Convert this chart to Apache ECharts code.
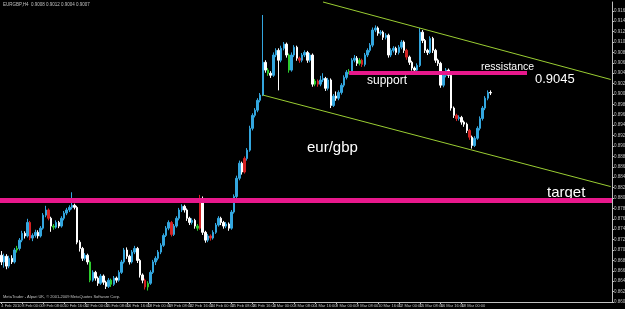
<!DOCTYPE html>
<html><head><meta charset="utf-8">
<script src="https://cdn.jsdelivr.net/npm/echarts@6/dist/echarts.min.js"></script>
<style>html,body{margin:0;padding:0;background:#000}#c{width:625px;height:309px}</style>
</head><body><div id="c"></div>
<script>
const tickLabels = ["4 Feb 2010","8 Feb 00:00","9 Feb 08:00","10 Feb 16:00","12 Feb 00:00","15 Feb 08:00","16 Feb 16:00","18 Feb 00:00","19 Feb 08:00","22 Feb 16:00","24 Feb 00:00","25 Feb 08:00","26 Feb 16:00","2 Mar 00:00","3 Mar 08:00","4 Mar 16:00","8 Mar 00:00","9 Mar 08:00","10 Mar 16:00","12 Mar 00:00","15 Mar 08:00","16 Mar 16:00","18 Mar 00:00","19 Mar 08:00"];
const opens = [
0.8695,0.8682,0.8693,0.8674,0.8689,0.8682,0.8705,0.8708,0.8724,0.8737,
0.8732,0.8758,0.8728,0.8733,0.8739,0.8732,0.8747,0.8772,0.8782,0.8766,
0.8751,0.8749,0.8758,0.8751,0.8766,0.8776,0.8782,0.8787,0.8791,0.8787,
0.8720,0.8708,0.8689,0.8695,0.8682,0.8647,0.8662,0.8651,0.8641,0.8655,
0.8643,0.8635,0.8647,0.8639,0.8651,0.8647,0.8662,0.8682,0.8705,0.8693,
0.8682,0.8701,0.8708,0.8685,0.8657,0.8647,0.8634,0.8641,0.8662,0.8682,
0.8689,0.8701,0.8714,0.8733,0.8747,0.8758,0.8735,0.8751,0.8766,0.8782,
0.8789,0.8782,0.8766,0.8758,0.8762,0.8751,0.8747,0.8799,0.8739,0.8724,
0.8732,0.8728,0.8739,0.8753,0.8766,0.8758,0.8751,0.8755,0.8747,0.8778,
0.8808,0.8843,0.8872,0.8855,0.8881,0.8897,0.8939,0.8964,0.8974,0.8993,
0.9003,0.9066,0.9051,0.9045,0.9041,0.9080,0.9089,0.9070,0.9093,0.9101,
0.9080,0.9051,0.9080,0.9095,0.9074,0.9070,0.9080,0.9085,0.9070,0.9080,
0.9024,0.9030,0.9024,0.9032,0.9035,0.9016,0.9032,0.8983,0.9001,0.8997,
0.9008,0.9022,0.9037,0.9047,0.9049,0.9070,0.9074,0.9064,0.9070,0.9062,
0.9080,0.9089,0.9099,0.9128,0.9132,0.9122,0.9124,0.9114,0.9118,0.9080,
0.9089,0.9093,0.9085,0.9095,0.9105,0.9089,0.9076,0.9066,0.9055,0.9051,
0.9060,0.9124,0.9108,0.9089,0.9085,0.9112,0.9089,0.9070,0.9064,0.9022,
0.9041,0.9051,0.9041,0.8978,0.8964,0.8958,0.8960,0.8951,0.8947,0.8935,
0.8922,0.8906,0.8920,0.8939,0.8958,0.8978,0.8997,0.9008];
const closes = [
0.8682,0.8693,0.8674,0.8689,0.8682,0.8705,0.8708,0.8724,0.8737,0.8732,
0.8758,0.8728,0.8733,0.8739,0.8732,0.8747,0.8772,0.8782,0.8766,0.8751,
0.8749,0.8758,0.8751,0.8766,0.8776,0.8782,0.8787,0.8791,0.8787,0.8720,
0.8708,0.8689,0.8695,0.8682,0.8647,0.8662,0.8651,0.8641,0.8655,0.8643,
0.8635,0.8647,0.8639,0.8651,0.8647,0.8662,0.8682,0.8705,0.8693,0.8682,
0.8701,0.8708,0.8685,0.8657,0.8647,0.8634,0.8641,0.8662,0.8682,0.8689,
0.8701,0.8714,0.8733,0.8747,0.8758,0.8735,0.8751,0.8766,0.8782,0.8789,
0.8782,0.8766,0.8758,0.8762,0.8751,0.8747,0.8799,0.8739,0.8724,0.8732,
0.8728,0.8739,0.8753,0.8766,0.8758,0.8751,0.8755,0.8747,0.8778,0.8808,
0.8843,0.8872,0.8855,0.8881,0.8897,0.8939,0.8964,0.8974,0.8993,0.9003,
0.9066,0.9051,0.9045,0.9041,0.9080,0.9089,0.9070,0.9093,0.9101,0.9080,
0.9051,0.9080,0.9095,0.9074,0.9070,0.9080,0.9085,0.9070,0.9080,0.9024,
0.9030,0.9024,0.9032,0.9035,0.9016,0.9032,0.8983,0.9001,0.8997,0.9008,
0.9022,0.9037,0.9047,0.9049,0.9070,0.9074,0.9064,0.9070,0.9062,0.9080,
0.9089,0.9099,0.9128,0.9132,0.9122,0.9124,0.9114,0.9118,0.9080,0.9089,
0.9093,0.9085,0.9095,0.9105,0.9089,0.9076,0.9066,0.9055,0.9051,0.9060,
0.9124,0.9108,0.9089,0.9085,0.9112,0.9089,0.9070,0.9064,0.9022,0.9041,
0.9051,0.9041,0.8978,0.8964,0.8958,0.8960,0.8951,0.8947,0.8935,0.8922,
0.8906,0.8920,0.8939,0.8958,0.8978,0.8997,0.9008,0.9007];
const lows = [
0.8676,0.8671,0.8668,0.8670,0.8678,0.8679,0.8700,0.8704,0.8720,0.8727,
0.8729,0.8724,0.8722,0.8729,0.8727,0.8729,0.8744,0.8768,0.8762,0.8740,
0.8744,0.8746,0.8747,0.8748,0.8762,0.8772,0.8778,0.8783,0.8783,0.8716,
0.8702,0.8684,0.8685,0.8677,0.8643,0.8644,0.8646,0.8636,0.8638,0.8638,
0.8630,0.8632,0.8634,0.8636,0.8642,0.8644,0.8659,0.8679,0.8688,0.8677,
0.8679,0.8697,0.8680,0.8652,0.8641,0.8629,0.8627,0.8638,0.8659,0.8676,
0.8685,0.8697,0.8711,0.8730,0.8743,0.8731,0.8732,0.8748,0.8762,0.8778,
0.8777,0.8761,0.8753,0.8754,0.8746,0.8742,0.8744,0.8734,0.8719,0.8720,
0.8723,0.8725,0.8736,0.8750,0.8753,0.8746,0.8747,0.8742,0.8744,0.8775,
0.8805,0.8839,0.8850,0.8852,0.8877,0.8894,0.8935,0.8960,0.8970,0.8989,
0.9001,0.9046,0.9040,0.9036,0.9038,0.9076,0.9012,0.9066,0.9089,0.9075,
0.9046,0.9048,0.9076,0.9069,0.9065,0.9066,0.9076,0.9065,0.9066,0.9019,
0.9020,0.9019,0.9020,0.9028,0.9011,0.9012,0.8978,0.8980,0.8992,0.8993,
0.9004,0.9018,0.9033,0.9043,0.9045,0.9066,0.9059,0.9060,0.9057,0.9058,
0.9076,0.9085,0.9095,0.9124,0.9117,0.9118,0.9109,0.9110,0.9075,0.9076,
0.9085,0.9080,0.9081,0.9091,0.9084,0.9071,0.9061,0.9050,0.9046,0.9047,
0.9057,0.9103,0.9084,0.9080,0.9082,0.9084,0.9065,0.9059,0.9017,0.9018,
0.9037,0.9036,0.8973,0.8959,0.8953,0.8954,0.8946,0.8942,0.8930,0.8917,
0.8900,0.8903,0.8917,0.8935,0.8954,0.8974,0.8993,0.9003];
const highs = [
0.8703,0.8698,0.8697,0.8694,0.8695,0.8709,0.8713,0.8728,0.8742,0.8741,
0.8765,0.8761,0.8737,0.8744,0.8743,0.8751,0.8776,0.8790,0.8785,0.8769,
0.8755,0.8762,0.8761,0.8770,0.8780,0.8786,0.8791,0.8816,0.8794,0.8790,
0.8724,0.8711,0.8699,0.8698,0.8685,0.8666,0.8665,0.8654,0.8659,0.8658,
0.8646,0.8651,0.8650,0.8655,0.8654,0.8666,0.8686,0.8709,0.8710,0.8696,
0.8705,0.8713,0.8711,0.8688,0.8660,0.8650,0.8645,0.8666,0.8686,0.8693,
0.8705,0.8718,0.8737,0.8751,0.8762,0.8761,0.8755,0.8770,0.8786,0.8793,
0.8792,0.8785,0.8769,0.8766,0.8765,0.8755,0.8811,0.8808,0.8742,0.8736,
0.8735,0.8743,0.8757,0.8770,0.8769,0.8761,0.8759,0.8758,0.8782,0.8812,
0.8848,0.8877,0.8875,0.8885,0.8901,0.8944,0.8968,0.8978,0.8997,0.9007,
0.9157,0.9070,0.9055,0.9049,0.9085,0.9093,0.9093,0.9098,0.9105,0.9104,
0.9083,0.9085,0.9099,0.9098,0.9077,0.9084,0.9089,0.9088,0.9084,0.9083,
0.9034,0.9033,0.9040,0.9045,0.9038,0.9036,0.9035,0.9005,0.9010,0.9012,
0.9026,0.9041,0.9051,0.9053,0.9074,0.9080,0.9078,0.9074,0.9073,0.9084,
0.9093,0.9103,0.9133,0.9137,0.9135,0.9128,0.9127,0.9122,0.9121,0.9093,
0.9097,0.9096,0.9099,0.9109,0.9108,0.9092,0.9079,0.9069,0.9058,0.9064,
0.9132,0.9128,0.9111,0.9092,0.9116,0.9115,0.9092,0.9073,0.9067,0.9045,
0.9055,0.9054,0.9044,0.8981,0.8967,0.8964,0.8963,0.8954,0.8950,0.8938,
0.8925,0.8924,0.8943,0.8962,0.8982,0.9001,0.9012,0.9012];
const greenBars = [6,20,34,42,56,75,102,110,120,133,137];
const redBars = [11,18,55,65,76,80,93,114,121,138,155,174,179];
const resistancePrice = 0.9045;
const resistanceSpan = [133, 201];
const targetPrice = 0.8793;
const upperTrend = [[123, 0.9182], [233, 0.9033]];
const lowerTrend = [[100, 0.9003], [233, 0.8827]];
const slotCount = 234;

const UP = '#33a6de', DOWN = '#ffffff', GREEN = '#2ecc2e', RED = '#d42222';
const PINK = '#e8188c', TREND = '#9acd32', AXIS = '#c0c0c0';
const cats = Array.from({length: slotCount}, (_, i) => String(i));
const green = new Set(greenBars), red = new Set(redBars);
const candles = opens.map((o, i) => {
  const item = { value: [o, closes[i], lows[i], highs[i]] };
  const c = green.has(i) ? GREEN : red.has(i) ? RED : null;
  if (c) item.itemStyle = { color: c, color0: c, borderColor: c, borderColor0: c };
  return item;
});
const showTick = (idx) => idx % 8 === 0 && idx / 8 < tickLabels.length;

const chart = echarts.init(document.getElementById('c'), null, {renderer: 'canvas'});
chart.setOption({
  backgroundColor: '#000',
  animation: false,
  grid: { left: 0, right: 13, top: 2, bottom: 7, containLabel: false, outerBoundsMode: 'none' },
  xAxis: {
    type: 'category', data: cats, boundaryGap: true,
    axisLine: { lineStyle: { color: AXIS, width: 1 } },
    axisTick: { show: true, interval: showTick, alignWithLabel: true, length: 2, lineStyle: { color: AXIS } },
    axisLabel: { interval: showTick, formatter: (v) => tickLabels[Number(v) / 8] || '', fontSize: 4, color: AXIS, align: 'left', margin: 1.5, fontFamily: 'Liberation Sans', hideOverlap: false },
    splitLine: { show: false }
  },
  yAxis: {
    type: 'value', position: 'right', min: 0.8605, max: 0.9182, interval: 0.002, scale: true,
    axisLine: { show: true, lineStyle: { color: AXIS, width: 1 } },
    axisTick: { show: true, length: 2, lineStyle: { color: AXIS } },
    axisLabel: { fontSize: 4.5, color: AXIS, margin: 2, showMaxLabel: false, formatter: v => v.toFixed(5), fontFamily: 'Liberation Sans' },
    splitLine: { show: false }
  },
  series: [
    {
      type: 'candlestick', name: 'EURGBP', data: candles, barWidth: 2,
      itemStyle: { color: UP, color0: DOWN, borderColor: UP, borderColor0: DOWN, borderWidth: 1 },
      markLine: {
        silent: true, symbol: ['none', 'none'],
        lineStyle: { opacity: 0 },
        label: { show: true, position: 'end', distance: 1, formatter: p => p.value.toFixed(5), backgroundColor: '#ffffff', color: '#000', fontSize: 4.5, padding: [1, 1], fontFamily: 'Liberation Sans' },
        data: [{ yAxis: closes[closes.length - 1] }]
      }
    },
    {
      type: 'line', data: [], silent: true,
      markLine: {
        silent: true, symbol: ['none', 'none'], label: { show: false },
        data: [
          [{ coord: [String(upperTrend[0][0]), upperTrend[0][1]], lineStyle: { color: TREND, width: 1, type: 'solid' } }, { coord: [String(upperTrend[1][0]), upperTrend[1][1]] }],
          [{ coord: [String(lowerTrend[0][0]), lowerTrend[0][1]], lineStyle: { color: TREND, width: 1, type: 'solid' } }, { coord: [String(lowerTrend[1][0]), lowerTrend[1][1]] }],
          [{ coord: [String(resistanceSpan[0]), resistancePrice], lineStyle: { color: PINK, width: 4, type: 'solid' } }, { coord: [String(resistanceSpan[1]), resistancePrice] }],
          { yAxis: targetPrice, lineStyle: { color: PINK, width: 5, type: 'solid' } }
        ]
      }
    }
  ],
  graphic: [
    { type: 'text', left: 3, top: 2, style: { text: 'EURGBP,H4  0.9008 0.9012 0.9004 0.9007', fill: AXIS, font: '4.5px "Liberation Sans"' } },
    { type: 'text', left: 3, top: 295, style: { text: 'MetaTrader - Alpari UK, \u00a9 2001-2009 MetaQuotes Software Corp.', fill: AXIS, font: '4px "Liberation Sans"' } },
    { type: 'text', x: 481, y: 67, style: { text: 'ressistance', fill: '#fff', font: '10.5px "Liberation Sans"', textVerticalAlign: 'middle' } },
    { type: 'text', x: 535, y: 79, style: { text: '0.9045', fill: '#fff', font: '13px "Liberation Sans"', textVerticalAlign: 'middle' } },
    { type: 'text', x: 367, y: 81, style: { text: 'support', fill: '#fff', font: '12px "Liberation Sans"', textVerticalAlign: 'middle' } },
    { type: 'text', x: 307, y: 148, style: { text: 'eur/gbp', fill: '#fff', font: '15px "Liberation Sans"', textVerticalAlign: 'middle' } },
    { type: 'text', x: 547, y: 193, style: { text: 'target', fill: '#fff', font: '15px "Liberation Sans"', textVerticalAlign: 'middle' } }
  ]
});
</script></body></html>
